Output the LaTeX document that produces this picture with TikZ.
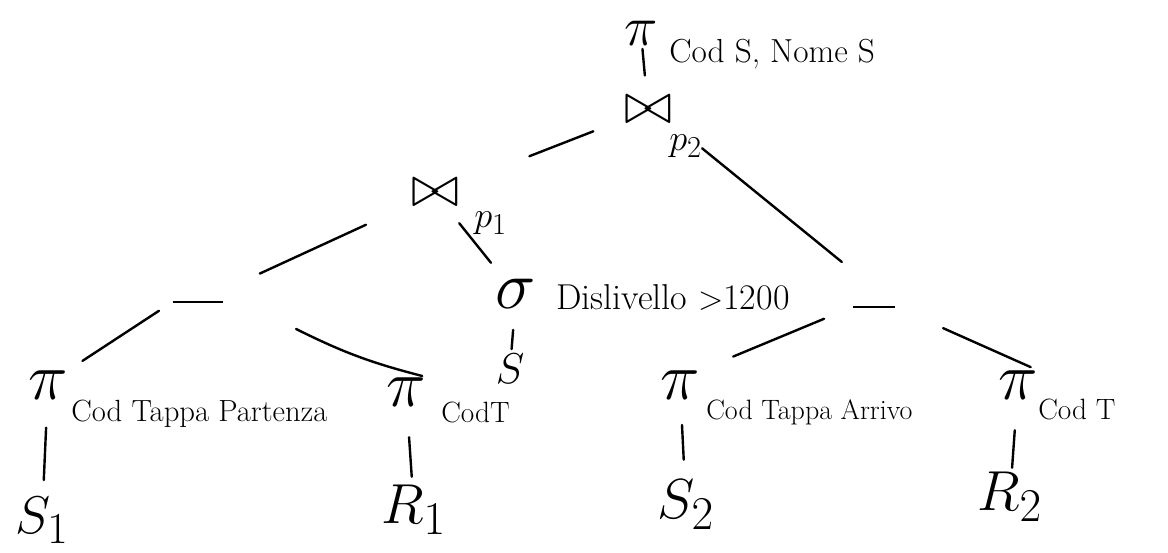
\documentclass[tikz,border=0pt]{standalone}
\usepackage{amsmath}
\usepackage{amssymb}
\usepackage{tikz}
\usetikzlibrary{calc}

\newcommand{\fsz}[1]{\fontsize{#1}{#1}\selectfont}
\newcommand{\sym}[2]{\scalebox{#1}{\Huge$#2$}}

\begin{document}
\begin{tikzpicture}[x=0.75pt,y=0.75pt,yscale=-1,xscale=1,
  opsym/.style={inner sep=0pt},
  attr/.style={anchor=base west,inner sep=0.75pt,font=\fsz{22}},
  gap/.style={inner sep=0pt},
  link/.style={line width=1.8pt,line cap=round}]
\useasboundingbox (0,0) rectangle (1168,553);

% Top projection and joins
\node[opsym] (proot) at (641,33) {\sym{1.7}{\pi}};
\node[attr,font=\fsz{25}] (lroot) at (668,62) {Cod S, Nome S};
\node[opsym] (join2) at (648,110) {\sym{1.77}{\bowtie}};
\node[attr] (lp2) at (668,150) {\sym{1.1}{p_2}};
\node[opsym] (join1) at (435,193) {\sym{1.77}{\bowtie}};
\node[attr] (lp1) at (473,227) {\sym{1.1}{p_1}};

% Dash nodes
\node[gap] (crossL) at (198,302) {\rule{38pt}{1.5pt}};
\node[gap] (crossR) at (874,307) {\rule{32pt}{1.5pt}};

% Selection
\node[opsym] (sel) at (516,294) {\sym{2.05}{\sigma}};
\node[attr,font=\fsz{27}] (lsel) at (555,309) {Dislivello $>$1200};
\node[opsym] (relS) at (510,369) {\sym{1.3}{S}};

% Projections on the leaves
\node[opsym] (projA) at (48,385) {\sym{2.01}{\pi}};
\node[attr,font=\fsz{23}] (lprojA) at (70,421) {Cod Tappa Partenza};
\node[opsym] (projB) at (406,392) {\sym{2.01}{\pi}};
\node[attr] (lprojB) at (440,422) {CodT};
\node[opsym] (projC) at (680,385) {\sym{2.01}{\pi}};
\node[attr,font=\fsz{21}] (lprojC) at (705,419) {Cod Tappa Arrivo};
\node[opsym] (projD) at (1018,385) {\sym{2.01}{\pi}};
\node[attr] (lprojD) at (1037,419) {Cod T};

% Relations
\node[opsym] (relS1) at (42,520) {\sym{1.6}{S_1}};
\node[opsym] (relR1) at (414,510) {\sym{1.7}{R_1}};
\node[opsym] (relS2) at (686,505) {\sym{1.7}{S_2}};
\node[opsym] (relR2) at (1010,497) {\sym{1.7}{R_2}};

% Edges
\draw[link] ($(proot)!12pt!(join2)$) -- ($(join2)!26pt!(proot)$);
\draw[link] ($(join2)!44pt!(join1)$) -- ($(join1)!76pt!(join2)$);
\draw[link] ($(join2.south east)!29pt!(crossR.north east)$) -- ($(crossR.north east)!52pt!(join2.south east)$);
\draw[link] ($(join1)!57pt!(crossL)$) -- ($(crossL)!51pt!(join1)$);
\draw[link] ($(join1)!29pt!(sel)$) -- ($(sel)!30pt!(join1)$);
\draw[link] ($(crossL.west)!12pt!(projA.north east)$) -- ($(projA.north east)!13pt!(crossL.west)$);
\draw[link] ($(crossL.east)!58pt!(projB.north east)$) to[bend left=6] ($(projB.north east)!3pt!(crossL.east)$);
\draw[link] ($(sel)!27pt!(relS)$) -- ($(relS)!15pt!(sel)$);
\draw[link] ($(crossR.west)!23pt!(projC.north east)$) -- ($(projC.north east)!27pt!(crossR.west)$);
\draw[link] ($(crossR.east)!39pt!(projD.north east)$) -- ($(projD.north east)!6pt!(crossR.east)$);

% Projection to relation
\draw[link] ($(projA)!32pt!(relS1)$) -- ($(relS1)!30pt!(projA)$);
\draw[link] ($(projB)!34pt!(relR1)$) -- ($(relR1)!25pt!(projB)$);
\draw[link] ($(projC)!30pt!(relS2)$) -- ($(relS2)!34pt!(projC)$);
\draw[link] ($(projD)!34pt!(relR2)$) -- ($(relR2)!22pt!(projD)$);

\end{tikzpicture}
\end{document}
